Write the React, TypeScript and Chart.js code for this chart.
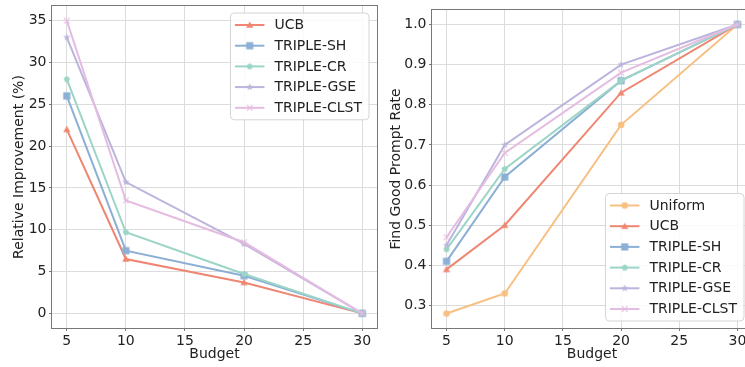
import React, { useEffect, useRef } from 'react';
import { Chart, registerables } from 'chart.js';
Chart.register(...registerables);

// ---- data ----
const budgets = [5, 10, 20, 30];
const xTickValues = [5, 10, 15, 20, 25, 30];
const leftYTickValues = [0, 5, 10, 15, 20, 25, 30, 35];
const rightYTickValues = [0.3, 0.4, 0.5, 0.6, 0.7, 0.8, 0.9, 1.0];

const riUCB = [22, 6.5, 3.7, 0];
const riSH = [26, 7.5, 4.5, 0];
const riCR = [28, 9.7, 4.7, 0];
const riGSE = [33, 15.7, 8.3, 0];
const riCLST = [35, 13.5, 8.5, 0];

const frUniform = [0.28, 0.33, 0.75, 1.0];
const frUCB = [0.39, 0.5, 0.83, 1.0];
const frSH = [0.41, 0.62, 0.86, 1.0];
const frCR = [0.44, 0.64, 0.86, 1.0];
const frGSE = [0.45, 0.7, 0.9, 1.0];
const frCLST = [0.47, 0.68, 0.88, 1.0];

const leftLabels = ['UCB', 'TRIPLE-SH', 'TRIPLE-CR', 'TRIPLE-GSE', 'TRIPLE-CLST'];
const rightLabels = ['Uniform', 'UCB', 'TRIPLE-SH', 'TRIPLE-CR', 'TRIPLE-GSE', 'TRIPLE-CLST'];

// ---- styles ----
const COLORS: Record<string, string> = {
  Uniform: '#f7c083',
  UCB: '#ee8672',
  'TRIPLE-SH': '#8cafd5',
  'TRIPLE-CR': '#9cd5c7',
  'TRIPLE-GSE': '#bcb4dc',
  'TRIPLE-CLST': '#e5bce1',
};
const MARKERS: Record<string, string> = {
  Uniform: 'circle',
  UCB: 'triangle',
  'TRIPLE-SH': 'square',
  'TRIPLE-CR': 'pentagon',
  'TRIPLE-GSE': 'star',
  'TRIPLE-CLST': 'x',
};
const FONT = '"DejaVu Sans", "Liberation Sans", sans-serif';
const TEXT = '#222222';
const GRID = '#dcdcdc';
const SPINE = '#777777';

function makeMarker(kind: string, color: string): HTMLCanvasElement {
  const c = document.createElement('canvas');
  c.width = 14;
  c.height = 14;
  const g = c.getContext('2d')!;
  const cx = 7, cy = 7;
  g.fillStyle = color;
  g.strokeStyle = color;
  g.beginPath();
  if (kind === 'circle') {
    g.arc(cx, cy, 3.3, 0, Math.PI * 2);
    g.fill();
  } else if (kind === 'triangle') {
    const r = 4.2;
    for (let i = 0; i < 3; i++) {
      const a = -Math.PI / 2 + (i * 2 * Math.PI) / 3;
      const px = cx + r * Math.cos(a), py = cy + 0.6 + r * Math.sin(a);
      if (i === 0) g.moveTo(px, py); else g.lineTo(px, py);
    }
    g.closePath();
    g.fill();
  } else if (kind === 'square') {
    g.rect(cx - 3.6, cy - 3.6, 7.2, 7.2);
    g.fill();
  } else if (kind === 'pentagon') {
    const r = 3.3;
    for (let i = 0; i < 5; i++) {
      const a = -Math.PI / 2 + (i * 2 * Math.PI) / 5;
      const px = cx + r * Math.cos(a), py = cy + r * Math.sin(a);
      if (i === 0) g.moveTo(px, py); else g.lineTo(px, py);
    }
    g.closePath();
    g.fill();
  } else if (kind === 'star') {
    const ro = 3.9, ri = 1.6;
    for (let i = 0; i < 10; i++) {
      const r = i % 2 === 0 ? ro : ri;
      const a = -Math.PI / 2 + (i * Math.PI) / 5;
      const px = cx + r * Math.cos(a), py = cy + r * Math.sin(a);
      if (i === 0) g.moveTo(px, py); else g.lineTo(px, py);
    }
    g.closePath();
    g.fill();
  } else {
    const d = 2.8;
    g.lineWidth = 1.2;
    g.moveTo(cx - d, cy - d);
    g.lineTo(cx + d, cy + d);
    g.moveTo(cx + d, cy - d);
    g.lineTo(cx - d, cy + d);
    g.stroke();
  }
  return c;
}

function makeDataset(label: string, values: number[], idx: number, n: number) {
  const color = COLORS[label];
  return {
    label,
    data: budgets.map((b, i) => ({ x: b, y: values[i] })),
    borderColor: color,
    backgroundColor: color,
    borderWidth: 2,
    pointStyle: makeMarker(MARKERS[label], color),
    pointRadius: 4,
    pointBackgroundColor: color,
    pointBorderColor: color,
    tension: 0,
    clip: false as any,
    order: n - 1 - idx,
  };
}

const framePlugin = {
  id: 'frame',
  afterDatasetsDraw(chart: any) {
    const { ctx, chartArea: a } = chart;
    ctx.save();
    ctx.strokeStyle = SPINE;
    ctx.lineWidth = 1;
    const l = Math.round(a.left) - 0.5, t = Math.round(a.top) - 0.5;
    const r = Math.round(a.right) + 0.5, b = Math.round(a.bottom) + 0.5;
    ctx.strokeRect(l, t, r - l, b - t);
    ctx.restore();
  },
};

const legendPlugin = {
  id: 'mplLegend',
  afterDraw(chart: any, _args: any, opts: any) {
    const { ctx, chartArea: a } = chart;
    const ds = chart.data.datasets;
    ctx.save();
    ctx.font = '14px ' + FONT;
    const maxW = Math.max(...ds.map((d: any) => ctx.measureText(d.label).width));
    const rowH = 20.7;
    const padY = 12;
    const w = 44 + maxW + 7;
    const h = padY * 2 + rowH * (ds.length - 1);
    const x = a.right - 8 - w;
    const y = opts.corner === 'tr' ? a.top + 7 : a.bottom - 7 - h;
    const rad = 4;
    ctx.beginPath();
    ctx.moveTo(x + rad, y);
    ctx.arcTo(x + w, y, x + w, y + h, rad);
    ctx.arcTo(x + w, y + h, x, y + h, rad);
    ctx.arcTo(x, y + h, x, y, rad);
    ctx.arcTo(x, y, x + w, y, rad);
    ctx.closePath();
    ctx.fillStyle = 'rgba(255,255,255,0.85)';
    ctx.fill();
    ctx.strokeStyle = '#d4d4d4';
    ctx.lineWidth = 1;
    ctx.stroke();
    ds.forEach((d: any, i: number) => {
      const cy = y + padY + i * rowH;
      ctx.beginPath();
      ctx.strokeStyle = d.borderColor;
      ctx.lineWidth = 2;
      ctx.moveTo(x + 4.5, cy);
      ctx.lineTo(x + 34, cy);
      ctx.stroke();
      const img = d.pointStyle as HTMLCanvasElement;
      ctx.drawImage(img, x + 19.25 - img.width / 2, cy - img.height / 2);
      ctx.fillStyle = TEXT;
      ctx.textBaseline = 'middle';
      ctx.textAlign = 'left';
      ctx.fillText(d.label, x + 44, cy + 0.5);
    });
    ctx.restore();
  },
};

function makeScales(yTicks: number[], yMin: number, yMax: number, yTitle: string, yTitlePad: number, fmt: (v: number) => string) {
  const grid = { color: GRID, lineWidth: 1, drawTicks: true, tickLength: 3, tickColor: SPINE, tickWidth: 1 };
  return {
    x: {
      type: 'linear',
      min: 3.75,
      max: 31.25,
      afterBuildTicks: (s: any) => {
        s.ticks = xTickValues.map((v) => ({ value: v }));
      },
      afterFit: (s: any) => {
        s.height = 39;
        s.paddingLeft = 0;
        s.paddingRight = 0;
      },
      grid,
      border: { display: false },
      ticks: { padding: 2, color: TEXT, font: { size: 14, family: FONT }, maxRotation: 0, autoSkip: false, callback: (v: any) => String(v) },
      title: { display: true, text: 'Budget', color: TEXT, font: { size: 14, family: FONT }, padding: { top: 0, bottom: 4.2 } },
    },
    y: {
      type: 'linear',
      min: yMin,
      max: yMax,
      afterBuildTicks: (s: any) => {
        s.ticks = yTicks.map((v) => ({ value: v }));
      },
      afterFit: (s: any) => {
        s.width = 52;
        s.paddingTop = 0;
        s.paddingBottom = 0;
      },
      grid,
      border: { display: false },
      ticks: { padding: 2.5, color: TEXT, font: { size: 14, family: FONT }, autoSkip: false, callback: (v: any) => fmt(Number(v)) },
      title: { display: true, text: yTitle, color: TEXT, font: { size: 14, family: FONT }, padding: { top: yTitlePad, bottom: 0 } },
    },
  };
}

function useChart(ref: React.RefObject<HTMLCanvasElement>, build: () => any) {
  useEffect(() => {
    if (!ref.current) return;
    const chart = new Chart(ref.current, build());
    return () => chart.destroy();
  }, []);
}

export default function App() {
  const leftRef = useRef<HTMLCanvasElement>(null);
  const rightRef = useRef<HTMLCanvasElement>(null);

  useChart(leftRef as any, () => {
    const series = [riUCB, riSH, riCR, riGSE, riCLST];
    return {
      type: 'line',
      data: { datasets: leftLabels.map((l, i) => makeDataset(l, series[i], i, leftLabels.length)) },
      options: {
        responsive: false,
        animation: false,
        devicePixelRatio: 1,
        layout: { autoPadding: false, padding: { left: 0, top: 6, right: 3, bottom: 0 } },
        plugins: { legend: { display: false }, tooltip: { enabled: false }, mplLegend: { corner: 'tr' } },
        scales: makeScales(leftYTickValues, -1.75, 36.75, 'Relative Improvement (%)', 10.6, (v) => String(Math.round(v))),
      },
      plugins: [framePlugin, legendPlugin],
    };
  });

  useChart(rightRef as any, () => {
    const series = [frUniform, frUCB, frSH, frCR, frGSE, frCLST];
    return {
      type: 'line',
      data: { datasets: rightLabels.map((l, i) => makeDataset(l, series[i], i, rightLabels.length)) },
      options: {
        responsive: false,
        animation: false,
        devicePixelRatio: 1,
        layout: { autoPadding: false, padding: { left: 0, top: 10, right: 4, bottom: 0 } },
        plugins: { legend: { display: false }, tooltip: { enabled: false }, mplLegend: { corner: 'br' } },
        scales: makeScales(rightYTickValues, 0.244, 1.036, 'Find Good Prompt Rate', 7.6, (v) => v.toFixed(1)),
      },
      plugins: [framePlugin, legendPlugin],
    };
  });

  return (
    <div style={{ position: 'absolute', left: 0, top: 0, width: 745, height: 367, overflow: 'hidden', background: '#fff' }}>
      <canvas ref={leftRef} width={380} height={367} style={{ position: 'absolute', left: 0, top: 0, width: 380, height: 367 }} />
      <canvas ref={rightRef} width={376} height={367} style={{ position: 'absolute', left: 380, top: 0, width: 376, height: 367 }} />
    </div>
  );
}
